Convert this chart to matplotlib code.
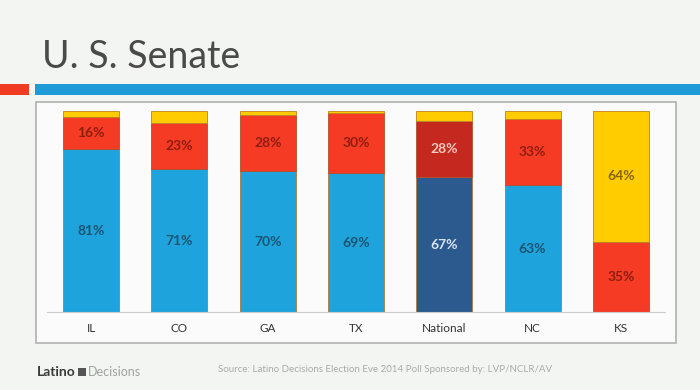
import matplotlib.pyplot as plt
from matplotlib.patches import Rectangle

states = ['IL', 'CO', 'GA', 'TX', 'National', 'NC', 'KS']
dem = [81, 71, 70, 69, 67, 63, 0]
rep = [16, 23, 28, 30, 28, 33, 35]
other = [3, 6, 2, 1, 5, 4, 65]
dem_labels = ['81%', '71%', '70%', '69%', '67%', '63%', '']
rep_labels = ['16%', '23%', '28%', '30%', '28%', '33%', '35%']
other_labels = ['', '', '', '', '', '', '64%']

blue = '#1fa3dc'
red = '#f53b24'
yellow = '#ffcc00'
nat_blue = '#2c5a8e'
nat_red = '#c4281f'

plt.rcParams['font.family'] = ['Lato', 'DejaVu Sans']

fig = plt.figure(figsize=(7, 3.9), dpi=100)
fig.patch.set_facecolor('#f3f5f3')

# title and header bars
fig.text(0.06, 0.855, 'U. S. Senate', fontsize=27, color='#4a4a4a', va='center', ha='left')
fig.patches.append(Rectangle((0, 390 - 95), 29, 11, transform=None, facecolor='#f03c22',
                             edgecolor='none'))
fig.patches.append(Rectangle((35, 390 - 95), 665, 11, transform=None, facecolor='#1e9ad6',
                             edgecolor='none'))
# chart frame
fig.patches.append(Rectangle((36 / 700, 47 / 390), 640 / 700, 241 / 390, transform=fig.transFigure,
                             facecolor='#fbfbfb', edgecolor='#b0b0b0', linewidth=1.2))

ax = fig.add_axes([47 / 700, 78 / 390, 618 / 700, 201 / 390])
ax.set_zorder(5)
ax.set_facecolor('none')
x = range(len(states))
w = 0.635
for i in x:
    is_nat = states[i] == 'National'
    cb = nat_blue if is_nat else blue
    cr = nat_red if is_nat else red
    ax.bar(i, dem[i], w, color=cb, edgecolor='#b07a40', linewidth=0.6)
    ax.bar(i, rep[i], w, bottom=dem[i], color=cr, edgecolor='#b05030', linewidth=0.6)
    ax.bar(i, other[i], w, bottom=dem[i] + rep[i], color=yellow, edgecolor='#c08020', linewidth=0.6)
    tb = '#d6e4f2' if is_nat else '#1b5573'
    tr = '#f6c9bd' if is_nat else '#8e1d10'
    if dem_labels[i]:
        ax.text(i, dem[i] / 2, dem_labels[i], ha='center', va='center', fontsize=10, color=tb,
                fontweight='bold')
    if rep_labels[i]:
        ax.text(i, dem[i] + rep[i] / 2, rep_labels[i], ha='center', va='center', fontsize=10,
                color=tr, fontweight='bold')
    if other_labels[i]:
        ax.text(i, dem[i] + rep[i] + other[i] / 2, other_labels[i], ha='center', va='center',
                fontsize=10, color='#8a6508', fontweight='bold')

ax.set_xlim(-0.5, 6.5)
ax.set_ylim(0, 100)
ax.set_xticks(list(x))
ax.set_xticklabels(states, fontsize=8.5, color='#333333')
ax.tick_params(axis='x', length=0, pad=8)
ax.set_yticks([])
for s in ['top', 'right', 'left']:
    ax.spines[s].set_visible(False)
ax.spines['bottom'].set_color('#cccccc')

# footer
fig.text(37 / 700, 1 - 372 / 390, 'Latino', fontsize=10, fontweight='bold', color='#3a3a3a',
         va='center')
fig.patches.append(Rectangle((78, 390 - 376), 8, 8, transform=None, facecolor='#555555',
                             edgecolor='none'))
fig.text(88 / 700, 1 - 372 / 390, 'Decisions', fontsize=9, color='#a0a0a0', va='center')
fig.text(218 / 700, 1 - 369 / 390,
         'Source: Latino Decisions Election Eve 2014 Poll Sponsored by: LVP/NCLR/AV',
         fontsize=7, color='#aaaaaa', va='center')

fig.savefig('out.png', dpi=100, facecolor=fig.get_facecolor())
